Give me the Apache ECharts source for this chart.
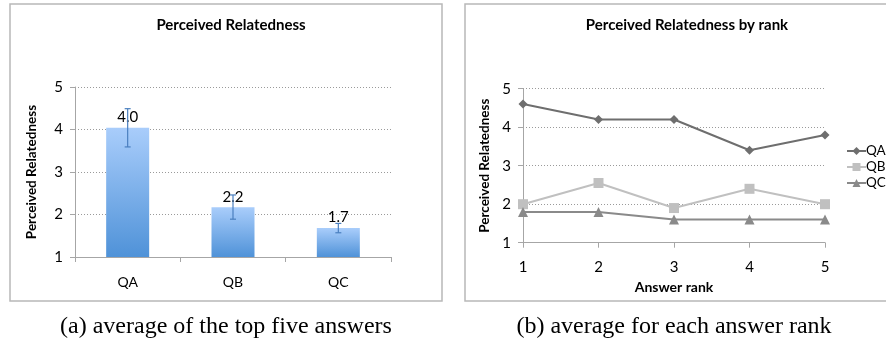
<!DOCTYPE html>
<html>
<head>
<meta charset="utf-8">
<script src="https://cdn.jsdelivr.net/npm/echarts@6/dist/echarts.min.js"></script>
<style>html,body{margin:0;padding:0;background:#fff}#c{width:886px;height:343px}</style>
</head>
<body>
<div id="c"></div>
<script>
// Chart (a)
const barCategories = ['QA', 'QB', 'QC'];
const barValues = [4.04, 2.17, 1.68];
const errLow = [3.59, 1.89, 1.57];
const errHigh = [4.49, 2.46, 1.79];
// Chart (b)
const ranks = ['1', '2', '3', '4', '5'];
const seriesQA = [4.6, 4.2, 4.2, 3.4, 3.8];
const seriesQB = [2.0, 2.55, 1.9, 2.4, 2.0];
const seriesQC = [1.8, 1.8, 1.6, 1.6, 1.6];

const chart = echarts.init(document.getElementById('c'), null, {renderer: 'canvas'});
const F = 'Lato, "Open Sans", sans-serif';
const gridLine = {show: true, lineStyle: {color: '#9a9a9a', type: [1, 2], width: 1}};
const axisLine = {show: true, lineStyle: {color: '#a6a6a6', width: 1}};

const option = {
  animation: false,
  backgroundColor: '#fff',
  title: [
    {text: 'Perceived Relatedness', left: 226, top: 13, textAlign: 'center',
     textStyle: {fontFamily: F, fontWeight: 'bold', fontSize: 15, color: '#000'}},
    {text: 'Perceived Relatedness by rank', left: 682, top: 13, textAlign: 'center',
     textStyle: {fontFamily: F, fontWeight: 'bold', fontSize: 15, color: '#000'}}
  ],
  legend: {
    orient: 'vertical', left: 846, top: 144, padding: 0, itemWidth: 19, itemHeight: 10, itemGap: 2,
    data: ['QA', 'QB', 'QC'],
    textStyle: {fontFamily: F, fontSize: 13.5, color: '#000', padding: [0, 0, 0, -5], overflow: 'none'}
  },
  graphic: [
    {type: 'rect', shape: {x: 10, y: 4, width: 432, height: 297}, style: {fill: 'none', stroke: '#b8b8b8', lineWidth: 1.5}, silent: true},
    {type: 'rect', shape: {x: 465, y: 4, width: 440, height: 297}, style: {fill: 'none', stroke: '#b8b8b8', lineWidth: 1.5}, silent: true},
    {type: 'text', x: 226, y: 327, style: {text: '(a) average of the top five answers', font: '24px "Liberation Serif", serif', fill: '#000', textAlign: 'center', textVerticalAlign: 'middle'}},
    {type: 'text', x: 674, y: 327, style: {text: '(b) average for each answer rank', font: '24px "Liberation Serif", serif', fill: '#000', textAlign: 'center', textVerticalAlign: 'middle'}}
  ],
  grid: [
    {left: 75, top: 87, width: 316, height: 170},
    {left: 523, top: 88.7, width: 302, height: 154}
  ],
  xAxis: [
    {type: 'category', gridIndex: 0, data: barCategories,
     axisLine: axisLine, axisTick: {show: true, length: 5, lineStyle: {color: '#a6a6a6'}},
     axisLabel: {fontFamily: F, fontSize: 14, color: '#000', margin: 18},
     splitLine: {show: false}},
    {type: 'category', gridIndex: 1, data: ranks, boundaryGap: false,
     axisLine: axisLine, axisTick: {show: true, length: 5, lineStyle: {color: '#a6a6a6'}},
     axisLabel: {fontFamily: F, fontSize: 15, color: '#000', margin: 17},
     name: 'Answer rank', nameLocation: 'middle', nameGap: 38,
     nameTextStyle: {fontFamily: F, fontWeight: 'bold', fontSize: 14, color: '#000'},
     splitLine: {show: false}}
  ],
  yAxis: [
    {type: 'value', gridIndex: 0, min: 1, max: 5, interval: 1,
     axisLine: axisLine, axisTick: {show: true, length: 5, lineStyle: {color: '#a6a6a6'}},
     axisLabel: {fontFamily: F, fontSize: 15, color: '#000', margin: 12},
     splitLine: gridLine,
     name: 'Perceived Relatedness', nameLocation: 'middle', nameGap: 36,
     nameTextStyle: {fontFamily: F, fontWeight: 'bold', fontSize: 13.5, color: '#000'}},
    {type: 'value', gridIndex: 1, min: 1, max: 5, interval: 1,
     axisLine: axisLine, axisTick: {show: true, length: 5, lineStyle: {color: '#a6a6a6'}},
     axisLabel: {fontFamily: F, fontSize: 15, color: '#000', margin: 12},
     splitLine: gridLine,
     name: 'Perceived Relatedness', nameLocation: 'middle', nameGap: 31,
     nameTextStyle: {fontFamily: F, fontWeight: 'bold', fontSize: 13.5, color: '#000'}}
  ],
  series: [
    {type: 'bar', xAxisIndex: 0, yAxisIndex: 0, data: barValues, barWidth: 43, clip: true,
     itemStyle: {color: new echarts.graphic.LinearGradient(0, 0, 0, 1, [
       {offset: 0, color: '#a9cdfb'}, {offset: 1, color: '#4f92d8'}])},
     label: {show: true, position: 'top', distance: 3, fontFamily: F, fontSize: 15, color: '#000',
       formatter: p => p.value.toFixed(1)},
     z: 2},
    {type: 'custom', xAxisIndex: 0, yAxisIndex: 0, z: 5,
     data: barCategories.map((c, i) => [i, errLow[i], errHigh[i]]),
     renderItem: function (params, api) {
       const x = api.value(0);
       const lo = api.coord([x, api.value(1)]);
       const hi = api.coord([x, api.value(2)]);
       const w = 3;
       const st = {stroke: '#4a7fbf', lineWidth: 1.2};
       return {type: 'group', children: [
         {type: 'line', shape: {x1: lo[0], y1: lo[1], x2: hi[0], y2: hi[1]}, style: st},
         {type: 'line', shape: {x1: lo[0] - w, y1: lo[1], x2: lo[0] + w, y2: lo[1]}, style: st},
         {type: 'line', shape: {x1: hi[0] - w, y1: hi[1], x2: hi[0] + w, y2: hi[1]}, style: st}
       ]};
     }},
    {name: 'QA', type: 'line', xAxisIndex: 1, yAxisIndex: 1, data: seriesQA,
     symbol: 'diamond', symbolSize: 9, lineStyle: {color: '#6e6e6e', width: 2},
     itemStyle: {color: '#6e6e6e'}},
    {name: 'QB', type: 'line', xAxisIndex: 1, yAxisIndex: 1, data: seriesQB,
     symbol: 'rect', symbolSize: 10, lineStyle: {color: '#c0c0c0', width: 2},
     itemStyle: {color: '#c0c0c0'}},
    {name: 'QC', type: 'line', xAxisIndex: 1, yAxisIndex: 1, data: seriesQC,
     symbol: 'triangle', symbolSize: 10, lineStyle: {color: '#8a8a8a', width: 2},
     itemStyle: {color: '#8a8a8a'}}
  ]
};
chart.setOption(option);
</script>
</body>
</html>
